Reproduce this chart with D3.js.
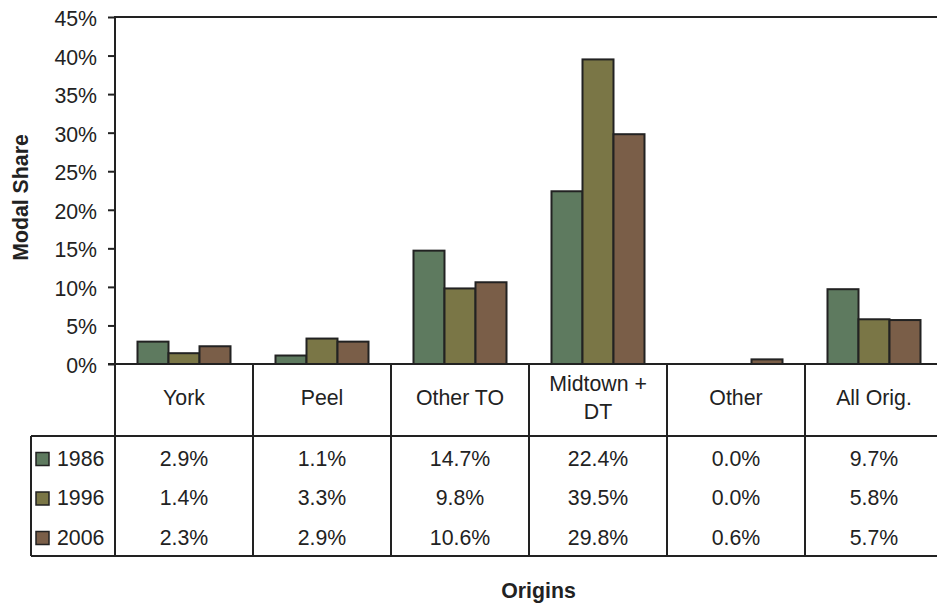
<!DOCTYPE html>
<html><head><meta charset="utf-8">
<script src="https://cdn.jsdelivr.net/npm/d3@7"></script>
<style>
html,body{margin:0;padding:0;background:#fff;}
svg text{font-family:"Liberation Sans",Arial,sans-serif;fill:#222;}
</style></head>
<body>
<svg id="c" width="937" height="603"></svg>
<script>
const categories = ["York","Peel","Other TO","Midtown + DT","Other","All Orig."];
const categoryLines = [["York"],["Peel"],["Other TO"],["Midtown +","DT"],["Other"],["All Orig."]];
const series = ["1986","1996","2006"];
const values1986 = [0.029,0.011,0.147,0.224,0.000,0.097];
const values1996 = [0.014,0.033,0.098,0.395,0.000,0.058];
const values2006 = [0.023,0.029,0.106,0.298,0.006,0.057];
const yTicks = [0,0.05,0.10,0.15,0.20,0.25,0.30,0.35,0.40,0.45];
const colors = ["#5E7A5F","#7A7646","#7A5E48"];

const allValues = [values1986, values1996, values2006];
const svg = d3.select("#c");
const L = 115, R = 943, T = 17, B = 364;
const headerBottom = 436, tableBottom = 556, legendLeft = 31;
const lineColor = "#222";
const FS = 21.3;

const x = d3.scaleBand().domain(categories).range([L, R]).paddingInner(0.326).paddingOuter(0.163);
const x1 = d3.scaleBand().domain(series).range([0, x.bandwidth()]);
const y = d3.scaleLinear().domain([0, 0.45]).range([B, T]);
const color = d3.scaleOrdinal().domain(series).range(colors);
const fmt = d3.format(".1%");

// plot area border
svg.append("rect").attr("x", L).attr("y", T).attr("width", R - L).attr("height", B - T)
  .attr("fill", "none").attr("stroke", lineColor).attr("stroke-width", 2);

// bars
series.forEach((s, si) => {
  svg.append("g").selectAll("rect").data(categories).join("rect")
    .attr("x", c => x(c) + x1(s))
    .attr("y", (c, i) => y(allValues[si][i]))
    .attr("width", x1.bandwidth())
    .attr("height", (c, i) => B - y(allValues[si][i]))
    .attr("fill", color(s))
    .attr("stroke", lineColor).attr("stroke-width", 2);
});

// y axis
const yAxis = d3.axisLeft(y).tickValues(yTicks).tickFormat(d3.format(".0%")).tickSize(7).tickPadding(11);
const gy = svg.append("g").attr("transform", `translate(${L},0)`).call(yAxis);
gy.select(".domain").remove();
gy.selectAll(".tick line").attr("stroke", lineColor).attr("stroke-width", 2);
gy.selectAll(".tick text").attr("font-size", FS).attr("fill", "#222")
  .attr("font-family", "Liberation Sans, Arial, sans-serif").attr("dy", "0.4em");

// left axis line through table
svg.append("line").attr("x1", L).attr("x2", L).attr("y1", T).attr("y2", tableBottom)
  .attr("stroke", lineColor).attr("stroke-width", 2);
// x axis line
svg.append("line").attr("x1", L - 7).attr("x2", 937).attr("y1", B).attr("y2", B)
  .attr("stroke", lineColor).attr("stroke-width", 2);

// table lines
const step = x.step();
const borders = d3.range(categories.length + 1).map(i => x.range()[0] + i * step);
svg.append("g").selectAll("line").data(borders).join("line")
  .attr("x1", d => d).attr("x2", d => d).attr("y1", B).attr("y2", tableBottom)
  .attr("stroke", lineColor).attr("stroke-width", 2);
[headerBottom, tableBottom].forEach(yy => {
  svg.append("line").attr("x1", legendLeft).attr("x2", 937).attr("y1", yy).attr("y2", yy)
    .attr("stroke", lineColor).attr("stroke-width", 2);
});
svg.append("line").attr("x1", legendLeft).attr("x2", legendLeft).attr("y1", headerBottom).attr("y2", tableBottom)
  .attr("stroke", lineColor).attr("stroke-width", 2);

// header labels
categories.forEach((c, i) => {
  const lines = categoryLines[i];
  const cx = x(c) + x.bandwidth() / 2;
  const lh = 28;
  const baseline = lines.length === 1 ? 405 : 391;
  const t = svg.append("text").attr("text-anchor", "middle").attr("font-size", FS);
  lines.forEach((ln, k) => {
    t.append("tspan").attr("x", cx).attr("y", baseline + k * lh).text(ln);
  });
});

// data rows
const rowBase = [465.5, 505, 544.5];
series.forEach((s, si) => {
  svg.append("rect").attr("x", 36).attr("y", rowBase[si] - 13).attr("width", 13).attr("height", 13)
    .attr("fill", color(s)).attr("stroke", lineColor).attr("stroke-width", 1.5);
  svg.append("text").attr("x", 57).attr("y", rowBase[si]).attr("font-size", FS).text(s);
  svg.append("g").selectAll("text").data(categories).join("text")
    .attr("x", c => x(c) + x.bandwidth() / 2)
    .attr("y", rowBase[si])
    .attr("text-anchor", "middle").attr("font-size", FS)
    .text((c, i) => fmt(allValues[si][i]));
});

// axis titles
svg.append("text").attr("transform", "translate(28,197.5) rotate(-90)")
  .attr("text-anchor", "middle").attr("font-size", FS).attr("font-weight", "bold").text("Modal Share");
svg.append("text").attr("x", 538.5).attr("y", 597.5).attr("text-anchor", "middle")
  .attr("font-size", FS).attr("font-weight", "bold").text("Origins");
</script>
</body></html>
